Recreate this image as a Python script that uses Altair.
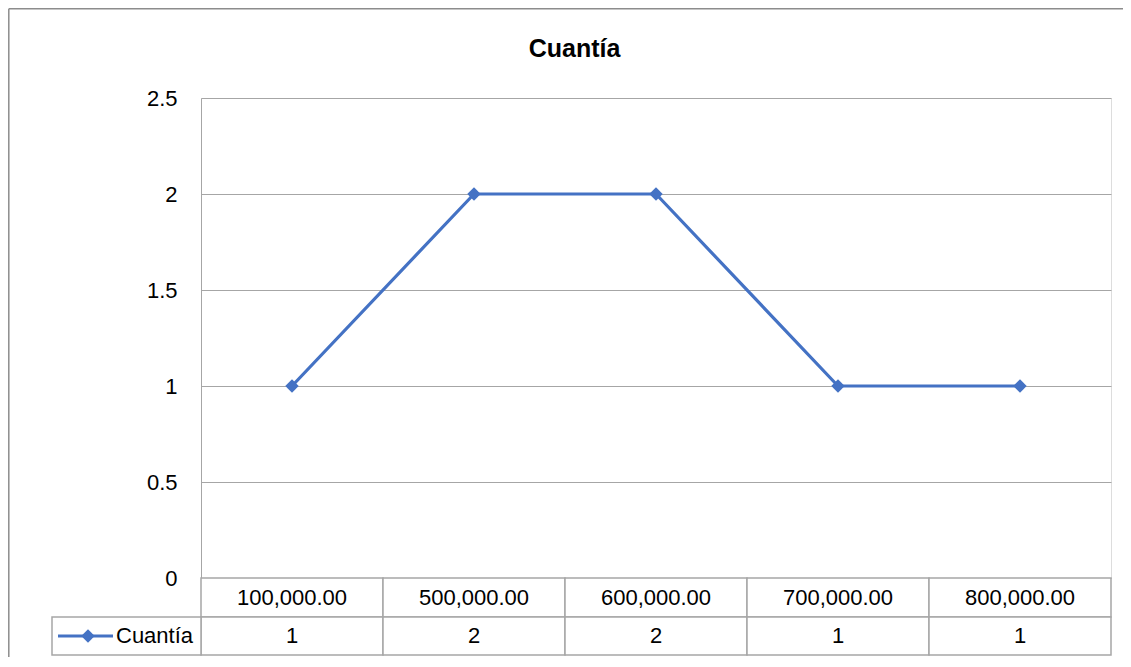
import altair as alt
import pandas as pd

title_text = "Cuantía"
series_name = "Cuantía"
categories = ["100,000.00", "500,000.00", "600,000.00", "700,000.00", "800,000.00"]
values = [1, 2, 2, 1, 1]
y_ticks = [0, 0.5, 1, 1.5, 2, 2.5]

FONT = "Liberation Sans, Arial, sans-serif"
BLUE = "#4472C4"
GRID = "#a6a6a6"
FS = 22

df = pd.DataFrame({"cat": categories, "val": values, "series": [series_name] * len(values)})
df["label"] = df["val"].astype(str)
one = pd.DataFrame({"series": [series_name], "title": [title_text]})

xs = alt.Scale(domain=categories, paddingInner=0, paddingOuter=0)
X = alt.X("cat:N", scale=xs, sort=categories, axis=None)
Y = alt.Y("val:Q", scale=alt.Scale(domain=[0, 2.5], nice=False, zero=True),
          axis=alt.Axis(values=y_ticks, format="~g", title=None, ticks=False,
                        labelPadding=24, labelFontSize=FS, labelFont=FONT,
                        labelColor="black", gridColor=GRID, gridWidth=1,
                        domainColor=GRID, domainWidth=1))

base = alt.Chart(df)

line = base.mark_line(color=BLUE, strokeWidth=3.2).encode(x=X, y=Y)
points = base.mark_point(shape="diamond", filled=True, size=180, color=BLUE, opacity=1).encode(
    x=X, y=Y
)

row1 = base.mark_rect(fill="white", stroke=GRID, strokeWidth=1.5).encode(
    x=X, y=alt.value(480), y2=alt.value(519)
)
row2 = base.mark_rect(fill="white", stroke=GRID, strokeWidth=1.5).encode(
    x=X, y=alt.value(519), y2=alt.value(557)
)
row1_text = base.mark_text(font=FONT, fontSize=FS, color="black", baseline="middle").encode(
    x=X, y=alt.value(500), text="cat:N"
)
row2_text = base.mark_text(font=FONT, fontSize=FS, color="black", baseline="middle").encode(
    x=X, y=alt.value(538), text="label:N"
)

b1 = alt.Chart(one)
legend_cell = b1.mark_rect(fill="white", stroke=GRID, strokeWidth=1.5).encode(
    x=alt.value(-149), x2=alt.value(0), y=alt.value(519), y2=alt.value(557)
)
legend_line = b1.mark_rule(color=BLUE, strokeWidth=3.2).encode(
    x=alt.value(-143), x2=alt.value(-88), y=alt.value(538)
)
legend_pt = b1.mark_point(shape="diamond", filled=True, size=180, color=BLUE, opacity=1).encode(
    x=alt.value(-113), y=alt.value(538)
)
legend_text = b1.mark_text(font=FONT, fontSize=FS, color="black", align="left", baseline="middle").encode(
    x=alt.value(-85), y=alt.value(538), text="series:N"
)
title_mark = b1.mark_text(font=FONT, fontSize=25, fontWeight="bold", color="black",
                          align="center", baseline="alphabetic").encode(
    x=alt.value(373.5), y=alt.value(-41), text="title:N"
)
border_left = b1.mark_rule(color="#8c8c8c", strokeWidth=1.5).encode(
    x=alt.value(-192.2), y=alt.value(-89.2), y2=alt.value(600)
)
border_top = b1.mark_rule(color="#8c8c8c", strokeWidth=1.5).encode(
    x=alt.value(-192.2), x2=alt.value(960), y=alt.value(-89.2)
)

chart = alt.layer(
    border_left, border_top, title_mark,
    row1, row2, legend_cell,
    line, points,
    row1_text, row2_text,
    legend_line, legend_pt, legend_text,
).properties(
    width=910, height=480,
    padding={"left": 193, "top": 90, "right": 12, "bottom": 79},
    autosize=alt.AutoSizeParams(type="none"),
).configure_view(stroke=None).configure(background="white")

chart.save("out.html", embed_options={"renderer": "svg", "actions": False})
